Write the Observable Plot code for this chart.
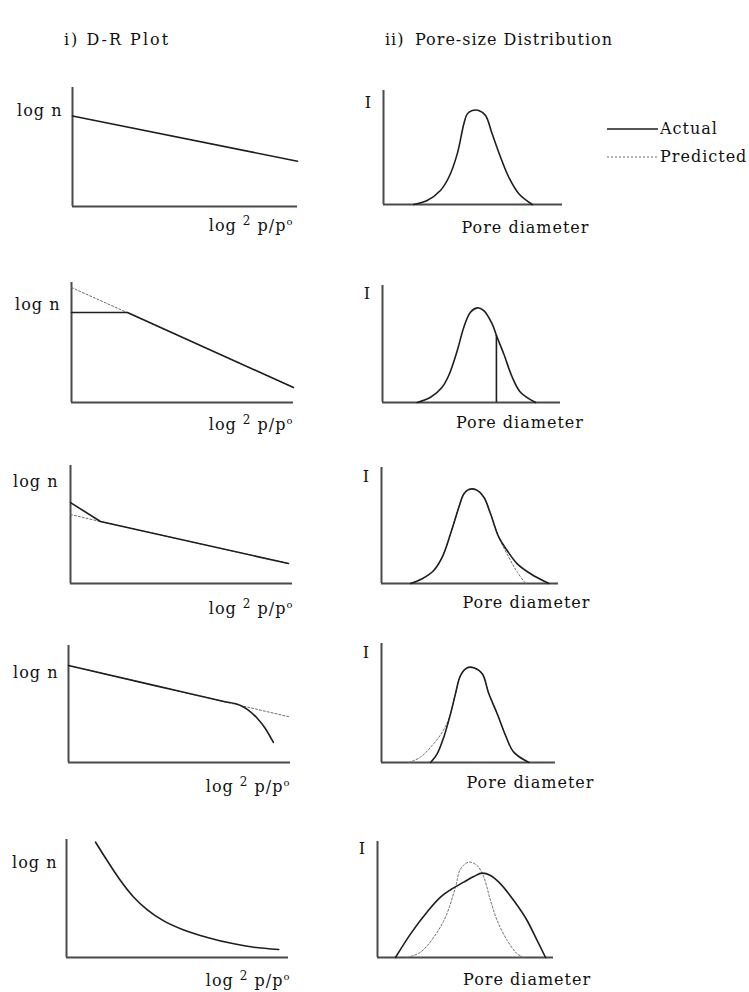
<!DOCTYPE html>
<html>
<head>
<meta charset="utf-8">
<script src="https://cdn.jsdelivr.net/npm/d3@7"></script>
<script src="https://cdn.jsdelivr.net/npm/@observablehq/plot@0.6"></script>
<style>
  html, body { margin: 0; padding: 0; background: #fff; }
  #page { position: relative; width: 749px; height: 992px; overflow: hidden; background: #fff;
          font-family: "DejaVu Serif", serif; color: #111; }
  .abs { position: absolute; }
  .title { font-size: 16px; letter-spacing: 1px; line-height: 18px; white-space: nowrap; }
  .title.wide { letter-spacing: 2px; }
  .legend-row { display: flex; align-items: center; font-size: 16px; letter-spacing: 1px; white-space: nowrap; }
  .legend-row svg { margin-right: 2px; }
  svg text { letter-spacing: 1px; }
</style>
</head>
<body>
<div id="page"></div>
<script>
// Column headings and legend entries
const columnTitles = ["i) D-R Plot", "ii)", "Pore-size Distribution"];
const legendLabels = ["Actual", "Predicted"];

// Axis labels; the D-R abscissa label is written with raised parts
const drYLabel = "log n";
const drXLabelParts = [["log ", 0], ["2", 1], [" p/p", 0], ["o", 1]];
const drXLabel = drXLabelParts.map(p => p[0]).join("");
const psdYLabel = "I";
const psdXLabel = "Pore diameter";

// Values are in axis units: 0–100 along each axis of a panel.
// Row 1 – ideal micropore filling
const dr1Actual = [[0, 76], [100, 38]];
const psd1Actual = [[16.9, 0], [24.4, 3.5], [31.8, 12.3], [36.5, 23.9], [41.2, 44.4], [44.9, 70.8],
  [46.8, 79.5], [49.6, 82.5], [53.2, 82.5], [57.0, 78.1], [60.7, 62.0], [65.4, 41.5],
  [70.0, 23.9], [75.6, 9.4], [83.1, 0]];

// Row 2 – capped uptake at low pressure
const dr2Predicted = [[0, 95.8], [100, 12.5]];
const dr2Actual = [[0, 75], [25.2, 75], [100, 12.5]];
const psd2Actual = [[19.5, 0], [27.0, 4.5], [33.5, 13.1], [37.2, 23.1], [42.0, 44.4], [45.7, 64.4],
  [49.4, 77.2], [53.2, 80.9], [56.9, 78.6], [61.6, 67.2], [64.0, 57.3], [68.1, 41.6],
  [72.9, 21.6], [77.5, 8.8], [86.0, 0]];
const psd2Cutoff = [[64.0, 57.3]];

// Row 3 – upturn at the low end
const dr3Predicted = [[0, 58.5], [13.5, 52.5], [98.2, 16.9]];
const dr3Actual = [[0, 68.6], [13.5, 52.5], [98.2, 16.9]];
const psd3Actual = [[16.4, 0], [23.0, 4.1], [29.5, 11.2], [34.3, 22.7], [39.0, 42.8], [43.7, 65.7],
  [46.5, 77.2], [49.3, 81.0], [53.1, 81.0], [57.8, 74.4], [61.6, 60.1], [66.3, 39.9],
  [71.0, 28.4], [76.7, 16.9], [84.2, 8.4], [94.5, 0]];
const psd3Predicted = [[16.4, 0], [23.0, 4.1], [29.5, 11.2], [34.3, 22.7], [39.0, 42.8], [43.7, 65.7],
  [46.5, 77.2], [49.3, 81.0], [53.1, 81.0], [57.8, 74.4], [61.6, 60.1], [66.3, 39.9],
  [71.9, 22.7], [76.7, 9.8], [81.4, 0]];

// Row 4 – downturn at the high end
const dr4Predicted = [[0, 82.9], [77.5, 48.7], [99.1, 39.2]];
const dr4Actual = [[0, 82.9], [40, 65.3], [70, 52.1], [77.5, 48.7], [81, 44.8], [85, 37.8],
  [88.5, 29.5], [92.3, 17.1]];
const psd4Actual = [[28.2, 0], [32.0, 7.3], [35.8, 21.3], [39.7, 41.0], [42.5, 57.7], [45.4, 73.1],
  [49.3, 79.6], [53.0, 79.6], [57.9, 74.5], [61.7, 57.7], [66.5, 41.0], [71.3, 22.7],
  [76.0, 8.7], [84.7, 0]];
const psd4Predicted = [[15.7, 0], [22.4, 4.5], [29.1, 14.3], [34.9, 25.5], [39.0, 38.0], [42.5, 57.7],
  [45.4, 73.1], [49.3, 79.6], [53.0, 79.6], [57.9, 74.5], [61.7, 57.7], [66.5, 41.0],
  [71.3, 22.7], [76.0, 8.7], [84.7, 0]];

// Row 5 – strongly curved D-R plot
const dr5Actual = [[13.1, 97.7], [18.3, 82.2], [24.3, 65.3], [30.3, 51.1], [36.3, 40.6], [43.8, 31.0],
  [52.8, 23.3], [63.4, 17.0], [75.4, 11.6], [84.4, 8.7], [95.6, 6.8]];
const psd5Actual = [[10.2, 0], [18.8, 20.4], [28.3, 39.5], [35.8, 52.0], [41.5, 58.4], [49.0, 65.0],
  [54.7, 69.8], [59.5, 72.7], [64.2, 70.7], [69.9, 63.5], [77.4, 49.1], [85.0, 31.9],
  [90.7, 14.7], [95.5, 0]];
const psd5Predicted = [[16.9, 0], [24.4, 4.6], [32.0, 17.5], [38.6, 34.7], [44.3, 60.6], [47.2, 76.4],
  [51.9, 82.2], [56.6, 79.3], [60.4, 69.2], [64.2, 49.1], [68.0, 31.9], [73.7, 14.7],
  [79.4, 3.2], [83.1, 0]];

const FONT = "DejaVu Serif, serif";
const AXIS = "#4a4a4a";
const INK = "#1e1e1e";
const DOT = "#6a6a6a";
const SVGNS = "http://www.w3.org/2000/svg";

const page = document.getElementById("page");

function place(el, left, top) {
  el.classList.add("abs");
  el.style.left = left + "px";
  el.style.top = top + "px";
  page.appendChild(el);
  return el;
}

// Rebuild the abscissa label of a D-R panel with raised "2" and "o"
function raiseParts(chart) {
  chart.querySelectorAll("text").forEach(t => {
    if (t.textContent !== drXLabel) return;
    t.textContent = "";
    let raised = false;
    for (const [s, up] of drXLabelParts) {
      const sp = document.createElementNS(SVGNS, "tspan");
      sp.textContent = s;
      if (up && !raised) { sp.setAttribute("dy", "-6"); raised = true; }
      else if (!up && raised) { sp.setAttribute("dy", "6"); raised = false; }
      if (up) sp.setAttribute("font-size", s === "o" ? "10" : "12");
      t.appendChild(sp);
    }
  });
}

function panel(frame, box, marks) {
  const {ox, oy, ty, rx} = frame;
  const top = ty - 30, bottom = oy + 35;
  const chart = Plot.plot({
    width: box.right - box.left,
    height: bottom - top,
    marginLeft: ox - box.left,
    marginRight: box.right - rx,
    marginTop: ty - top,
    marginBottom: bottom - oy,
    x: {domain: [0, 100], axis: null},
    y: {domain: [0, 100], axis: null},
    style: {background: "transparent", overflow: "visible", fontFamily: FONT, fontSize: "16px", color: "#111"},
    marks: [
      Plot.ruleX([0], {stroke: AXIS, strokeWidth: 2}),
      Plot.ruleY([0], {stroke: AXIS, strokeWidth: 2}),
      ...marks
    ]
  });
  raiseParts(chart);
  place(chart, box.left, top);
}

const px = d => d[0], py = d => d[1];
const solid = (data, curve = "linear") => Plot.line(data, {x: px, y: py, stroke: INK, strokeWidth: 1.6, curve});
const dotted = (data, curve = "linear") => Plot.line(data, {x: px, y: py, stroke: DOT, strokeWidth: 1, strokeDasharray: "2,2", curve});
const txt = (s, o) => Plot.text([s], {text: d => d, fill: "#111", fontSize: 16, ...o});

const leftBox = {left: 0, right: 330};
const rightBox = {left: 340, right: 610};

function drLabels(yLab, dxLab, dxX, dyX) {
  return [
    txt(drYLabel, {x: 0, y: yLab, dx: dxLab, textAnchor: "end"}),
    txt(drXLabel, {x: 100, y: 0, dx: dxX, dy: dyX, textAnchor: "end"})
  ];
}
function psdLabels(yLab, xLab, dyX) {
  return [
    txt(psdYLabel, {x: 0, y: yLab, dx: -15, textAnchor: "middle"}),
    txt(psdXLabel, {x: xLab, y: 0, dy: dyX, textAnchor: "middle"})
  ];
}

// Row 1
panel({ox: 72, oy: 206, ty: 87, rx: 297}, leftBox, [
  solid(dr1Actual), ...drLabels(80, -10, -4, 19)
]);
panel({ox: 383, oy: 204, ty: 90, rx: 562}, rightBox, [
  solid(psd1Actual, "catmull-rom"), ...psdLabels(89, 79.3, 23)
]);

// Row 2
panel({ox: 71, oy: 402, ty: 282, rx: 293}, leftBox, [
  dotted(dr2Predicted), solid(dr2Actual), ...drLabels(81, -11, 0, 22)
]);
panel({ox: 382, oy: 402, ty: 285, rx: 560}, rightBox, [
  solid(psd2Actual, "catmull-rom"),
  Plot.ruleX(psd2Cutoff, {x: px, y1: 0, y2: py, stroke: INK, strokeWidth: 1.6}),
  ...psdLabels(93, 77.2, 20)
]);

// Row 3
panel({ox: 70, oy: 583, ty: 465, rx: 292}, leftBox, [
  dotted(dr3Predicted), solid(dr3Actual), ...drLabels(86, -12, 1, 25)
]);
panel({ox: 381, oy: 583, ty: 467, rx: 558}, rightBox, [
  dotted(psd3Predicted, "catmull-rom"), solid(psd3Actual, "catmull-rom"), ...psdLabels(92, 81.9, 19)
]);

// Row 4
panel({ox: 68, oy: 762, ty: 645, rx: 290}, leftBox, [
  dotted(dr4Predicted), solid(dr4Actual, "monotone-x"), ...drLabels(77, -10, 0, 24)
]);
panel({ox: 381, oy: 762, ty: 643, rx: 555}, rightBox, [
  dotted(psd4Predicted, "catmull-rom"), solid(psd4Actual, "catmull-rom"), ...psdLabels(92, 85.6, 20)
]);

// Row 5
panel({ox: 66, oy: 957, ty: 839, rx: 288}, leftBox, [
  solid(dr5Actual, "monotone-x"), ...drLabels(80.5, -9, 2, 23)
]);
panel({ox: 377, oy: 957, ty: 841, rx: 553}, rightBox, [
  dotted(psd5Predicted, "catmull-rom"), solid(psd5Actual, "monotone-x"), ...psdLabels(94, 85, 22)
]);

// Column headings
[[columnTitles[0], 64, "title wide"], [columnTitles[1], 385, "title"], [columnTitles[2], 415, "title"]]
  .forEach(([s, x, cls]) => {
    const d = document.createElement("div");
    d.className = cls;
    d.textContent = s;
    place(d, x, 31);
  });

// Legend
function legendRow(label, dashed, top) {
  const row = document.createElement("div");
  row.className = "legend-row";
  const svg = document.createElementNS(SVGNS, "svg");
  svg.setAttribute("width", 51);
  svg.setAttribute("height", 10);
  const ln = document.createElementNS(SVGNS, "line");
  ln.setAttribute("x1", 0); ln.setAttribute("x2", 51);
  ln.setAttribute("y1", 5); ln.setAttribute("y2", 5);
  ln.setAttribute("stroke", dashed ? DOT : INK);
  ln.setAttribute("stroke-width", dashed ? 1 : 1.6);
  if (dashed) ln.setAttribute("stroke-dasharray", "2,2");
  svg.appendChild(ln);
  row.appendChild(svg);
  const t = document.createElement("span");
  t.textContent = label;
  row.appendChild(t);
  place(row, 607, top);
}
legendRow(legendLabels[0], false, 119);
legendRow(legendLabels[1], true, 147);
</script>
</body>
</html>
